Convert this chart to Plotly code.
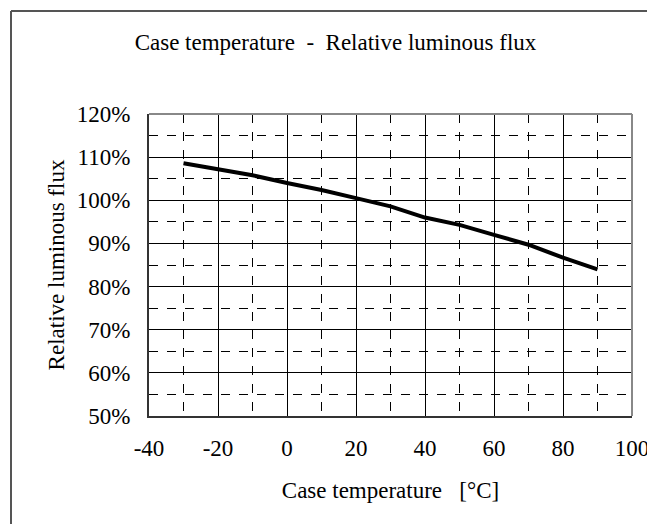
import plotly.graph_objects as go

# case temperature [°C] and relative luminous flux [%]
temp = [-30, -20, -10, 0, 10, 20, 30, 40, 50, 60, 70, 80, 90]
flux = [108.6, 107.2, 105.8, 104.0, 102.4, 100.5, 98.6, 96.0, 94.3, 92.0, 89.7, 86.7, 84.0]

x_ticks = [-40, -20, 0, 20, 40, 60, 80, 100]
x_labels = ["-40", "-20", "0", "20", "40", "60", "80", "100"]
y_ticks = [50, 60, 70, 80, 90, 100, 110, 120]
y_labels = ["50%", "60%", "70%", "80%", "90%", "100%", "110%", "120%"]

font = dict(family="Liberation Serif, Times New Roman, serif", size=23, color="black")

fig = go.Figure()
fig.add_trace(go.Scatter(x=temp, y=flux, mode="lines",
                         line=dict(color="black", width=4), showlegend=False))

fig.update_layout(
    width=655, height=524,
    margin=dict(l=141, r=31, t=106, b=116),
    paper_bgcolor="white", plot_bgcolor="white",
    font=font,
    title=dict(text="Case temperature  -  Relative luminous flux",
               x=0.5, xanchor="center", y=0.935, yanchor="middle",
               font=font),
)
fig.update_xaxes(
    range=[-40, 100], tickvals=x_ticks, ticktext=x_labels, ticks="", ticklabelstandoff=10,
    showgrid=True, gridcolor="black", gridwidth=1,
    minor=dict(dtick=10, showgrid=True, gridcolor="black", griddash="dash", gridwidth=1),
    zeroline=False, showline=True, linecolor="#333", linewidth=2,
    title=dict(text="Case temperature   [°C]", standoff=22, font=font),
)
fig.update_yaxes(
    range=[50, 120], tickvals=y_ticks, ticktext=y_labels, ticks="", ticklabelstandoff=12,
    showgrid=True, gridcolor="black", gridwidth=1,
    minor=dict(dtick=5, showgrid=True, gridcolor="black", griddash="dash", gridwidth=1),
    zeroline=False, showline=True, linecolor="#333", linewidth=2,
    title=dict(text="Relative luminous flux", standoff=6, font=font),
)

# plot border on top/right in gray
fig.add_shape(type="line", xref="paper", yref="paper", x0=0, x1=1, y0=1, y1=1,
              line=dict(color="#888", width=2))
fig.add_shape(type="line", xref="paper", yref="paper", x0=1, x1=1, y0=0, y1=1,
              line=dict(color="#888", width=2))
# chart frame, placed in pixels relative to the plot area
pw, ph = 655 - 141 - 31, 524 - 106 - 116
fx0 = (3 - 141) / pw
fx1 = (651 - 141) / pw
fy1 = (524 - 116 - 3) / ph
fy0 = (524 - 116 - 524) / ph
fig.add_shape(type="line", xref="paper", yref="paper", x0=fx0, x1=fx0, y0=fy0, y1=fy1,
              line=dict(color="#555", width=2))
fig.add_shape(type="line", xref="paper", yref="paper", x0=fx0, x1=fx1, y0=fy1, y1=fy1,
              line=dict(color="#555", width=2))
fig.add_shape(type="line", xref="paper", yref="paper", x0=fx1, x1=fx1, y0=fy0, y1=fy1,
              line=dict(color="#999", width=1))

fig.write_html("out.html")
